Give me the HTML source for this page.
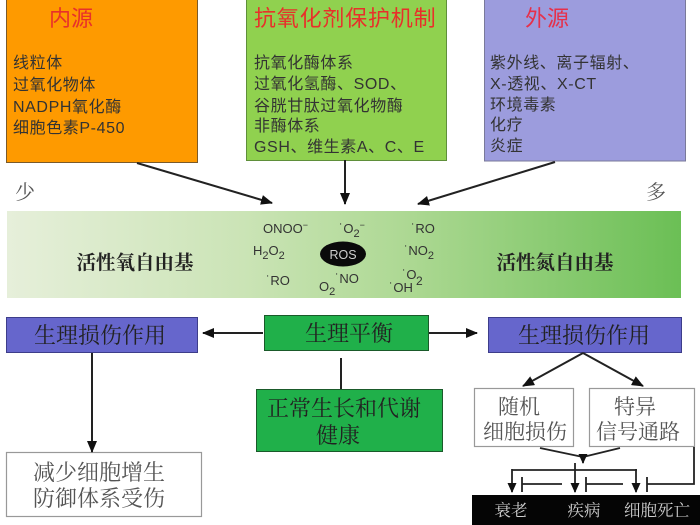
<!DOCTYPE html>
<html>
<head>
<meta charset="utf-8">
<style>
html,body{margin:0;padding:0;background:#fff;}
svg{display:block;}
.sans{font-family:"Liberation Sans","Noto Sans CJK SC",sans-serif;}
.serif{font-family:"Noto Serif CJK SC","Liberation Serif",serif;}
</style>
</head>
<body>
<svg width="700" height="525" viewBox="0 0 700 525" xmlns="http://www.w3.org/2000/svg">
<defs>
<marker id="ah" markerWidth="12" markerHeight="10" refX="11" refY="5" orient="auto" markerUnits="userSpaceOnUse">
<path d="M0,0 L12,5 L0,10 z" fill="#111"/>
</marker>
<marker id="ahs" markerWidth="10" markerHeight="9" refX="9" refY="4.5" orient="auto" markerUnits="userSpaceOnUse">
<path d="M0,0 L10,4.5 L0,9 z" fill="#111"/>
</marker>
<linearGradient id="bar" x1="0" y1="0" x2="1" y2="0">
<stop offset="0" stop-color="#e6efda"/>
<stop offset="0.35" stop-color="#cbe4b6"/>
<stop offset="0.6" stop-color="#acd892"/>
<stop offset="1" stop-color="#6bbf55"/>
</linearGradient>
</defs>

<!-- top boxes -->
<rect x="6.5" y="-1" width="191" height="163.5" fill="#fe9a00" stroke="#7a5a2a" stroke-width="1"/>
<rect x="246.5" y="-1" width="200" height="161.5" fill="#90d14f" stroke="#5f8f3a" stroke-width="1"/>
<rect x="484.5" y="-1" width="201" height="162" fill="#9c9cdd" stroke="#7a7a9a" stroke-width="1"/>

<g class="sans" font-size="22" fill="#e8302a">
<text x="49" y="26" letter-spacing="0">内源</text>
<text x="254" y="26" letter-spacing="0.8">抗氧化剂保护机制</text>
<text x="525" y="26" fill="#e6304a">外源</text>
</g>

<g class="sans" font-size="16" fill="#333" letter-spacing="0.6">
<text x="13" y="68">线粒体</text>
<text x="13" y="90">过氧化物体</text>
<text x="13" y="112">NADPH氧化酶</text>
<text x="13" y="133">细胞色素P-450</text>

<text x="254" y="68">抗氧化酶体系</text>
<text x="254" y="89">过氧化氢酶、SOD、</text>
<text x="254" y="111">谷胱甘肽过氧化物酶</text>
<text x="254" y="131">非酶体系</text>
<text x="254" y="152">GSH、维生素A、C、E</text>

<text x="490" y="68">紫外线、离子辐射、</text>
<text x="490" y="89">X-透视、X-CT</text>
<text x="490" y="110">环境毒素</text>
<text x="490" y="130">化疗</text>
<text x="490" y="151">炎症</text>
</g>

<!-- top arrows -->
<g stroke="#222" stroke-width="2" fill="none">
<line x1="137" y1="163" x2="272" y2="203" marker-end="url(#ah)"/>
<line x1="345" y1="160" x2="345" y2="204" marker-end="url(#ah)"/>
<line x1="555" y1="162" x2="418" y2="204" marker-end="url(#ah)"/>
</g>

<text class="serif" x="15" y="199" font-size="20" fill="#555">少</text>
<text class="serif" x="646" y="199" font-size="20" fill="#555">多</text>

<!-- gradient bar -->
<rect x="7" y="211" width="674" height="87" fill="url(#bar)"/>
<g class="serif" font-size="19.5" fill="#222" font-weight="bold" text-anchor="middle">
<text x="135" y="269">活性氧自由基</text>
<text x="555" y="269">活性氮自由基</text>
</g>

<g class="sans" font-size="13" fill="#333">
<text x="263" y="233">ONOO<tspan dy="-5" font-size="9">−</tspan></text>
<text x="339" y="233">˙O<tspan dy="4" font-size="11">2</tspan><tspan dy="-9" font-size="9">−</tspan></text>
<text x="411" y="233">˙RO</text>
<text x="253" y="255">H<tspan dy="4" font-size="11">2</tspan><tspan dy="-4">O</tspan><tspan dy="4" font-size="11">2</tspan></text>
<text x="404" y="255">˙NO<tspan dy="4" font-size="11">2</tspan></text>
<text x="266" y="285">˙RO</text>
<text x="319" y="291">O<tspan dy="4" font-size="11">2</tspan></text>
<text x="335" y="283">˙NO</text>
<text x="389" y="292">˙OH</text>
<text x="402" y="279">˙O</text>
<text x="416" y="285" font-size="12">2</text>
</g>
<ellipse cx="343" cy="254" rx="23" ry="12.5" fill="#0a0a0a"/>
<text class="sans" x="343" y="259" font-size="12.5" fill="#cfcfcf" text-anchor="middle">ROS</text>

<!-- bottom section boxes -->
<rect x="6.5" y="317.5" width="191" height="35" fill="#6666cc" stroke="#3d3d8a" stroke-width="1"/>
<rect x="488.5" y="317.5" width="193" height="35" fill="#6666cc" stroke="#3d3d8a" stroke-width="1"/>
<rect x="264.5" y="315.5" width="164" height="35" fill="#20b04a" stroke="#1a5a2a" stroke-width="1"/>
<rect x="256.5" y="389.5" width="186" height="62" fill="#20b04a" stroke="#1a5a2a" stroke-width="1"/>
<rect x="6.5" y="452.5" width="195" height="64" fill="#fff" stroke="#999" stroke-width="1.2"/>
<rect x="474.5" y="388.5" width="99" height="58" fill="#fff" stroke="#999" stroke-width="1.2"/>
<rect x="589.5" y="388.5" width="105" height="58" fill="#fff" stroke="#999" stroke-width="1.2"/>
<rect x="472" y="495" width="228" height="30" fill="#050505"/>

<g class="serif" font-size="22" fill="#222" text-anchor="middle">
<text x="100" y="343">生理损伤作用</text>
<text x="584" y="343">生理损伤作用</text>
<text x="349" y="341">生理平衡</text>
<text x="344" y="416">正常生长和代谢</text>
<text x="338" y="443">健康</text>
</g>
<g class="serif" font-size="22" fill="#555" text-anchor="middle">
<text x="99" y="480">减少细胞增生</text>
<text x="99" y="506">防御体系受伤</text>
</g>
<g class="serif" font-size="21" fill="#555" text-anchor="middle">
<text x="519" y="414">随机</text>
<text x="525" y="439">细胞损伤</text>
<text x="635" y="414">特异</text>
<text x="638" y="439">信号通路</text>
</g>
<g class="serif" font-size="16.5" fill="#cfcfcf" text-anchor="middle">
<text x="511" y="516">衰老</text>
<text x="584" y="516">疾病</text>
<text x="657" y="516">细胞死亡</text>
</g>

<!-- bottom connectors -->
<g stroke="#222" stroke-width="2" fill="none">
<line x1="263" y1="333" x2="203" y2="333" marker-end="url(#ah)"/>
<line x1="429" y1="333" x2="477" y2="333" marker-end="url(#ah)"/>
<line x1="341" y1="358" x2="341" y2="389"/>
<line x1="92" y1="353" x2="92" y2="452" marker-end="url(#ah)"/>
<line x1="583" y1="353" x2="523" y2="386" marker-end="url(#ah)"/>
<line x1="583" y1="353" x2="643" y2="386" marker-end="url(#ah)"/>
</g>
<g stroke="#222" stroke-width="1.8" fill="none">
<polyline points="540,448 583,457"/>
<polyline points="620,448 583,457"/>
<line x1="583" y1="455" x2="583" y2="463" marker-end="url(#ahs)"/>
<line x1="512" y1="470" x2="637" y2="470"/>
<line x1="575" y1="463" x2="575" y2="470"/>
<line x1="512" y1="469" x2="512" y2="492" marker-end="url(#ahs)"/>
<line x1="575" y1="469" x2="575" y2="492" marker-end="url(#ahs)"/>
<line x1="636" y1="469" x2="636" y2="492" marker-end="url(#ahs)"/>
<line x1="522" y1="477" x2="522" y2="492"/>
<line x1="522" y1="484" x2="562" y2="484"/>
<line x1="586" y1="477" x2="586" y2="492"/>
<line x1="586" y1="484" x2="623" y2="484"/>
<line x1="647" y1="477" x2="647" y2="492"/>
<polyline points="647,484 694,484 694,447"/>
</g>
</svg>
</body>
</html>
